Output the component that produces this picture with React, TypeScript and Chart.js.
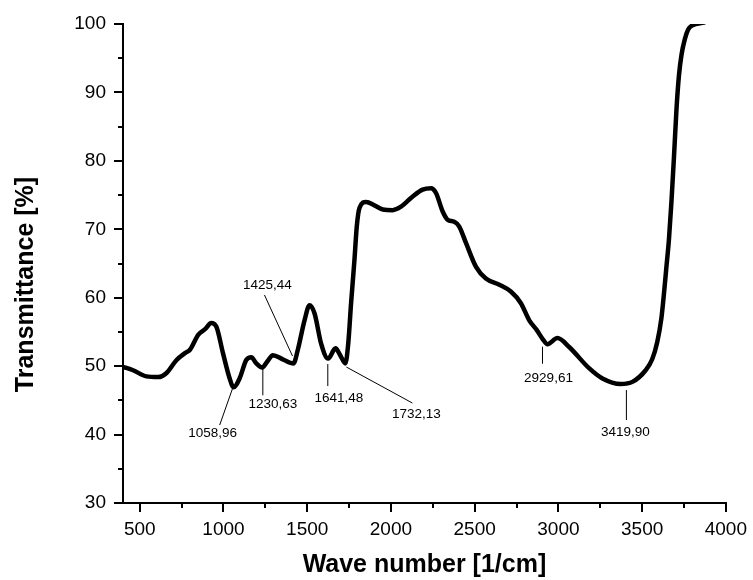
import React, { useEffect, useRef } from "react";
import { Chart, registerables } from "chart.js";

Chart.register(...registerables);

// ---- data ----
const waveNumbers = [
  400, 460, 540, 610, 660, 720, 770, 800, 850, 890, 927, 957, 997, 1037, 1060,
  1096, 1136, 1166, 1196, 1231, 1265, 1295, 1354, 1418, 1444, 1484, 1514, 1544,
  1583, 1625, 1669, 1697, 1728, 1745, 1762, 1782, 1796, 1812, 1852, 1901, 1951,
  2010, 2060, 2130, 2189, 2239, 2269, 2309, 2338, 2378, 2408, 2448, 2508, 2567,
  2647, 2716, 2776, 2826, 2870, 2905, 2935, 2994, 3064, 3183, 3263, 3372, 3442,
  3521, 3560, 3590, 3615, 3630, 3645, 3660, 3675, 3690, 3705, 3720, 3735, 3755,
  3775, 3800, 3869,
];
const transmittance = [
  49.9, 49.4, 48.5, 48.4, 49.0, 50.9, 51.9, 52.4, 54.6, 55.4, 56.3, 55.8, 51.9,
  48.2, 46.9, 48.2, 50.9, 51.3, 50.4, 49.8, 50.8, 51.6, 51.0, 50.4, 52.4, 56.7,
  58.9, 57.7, 53.3, 51.1, 52.6, 51.6, 50.4, 53.3, 59.2, 65.5, 70.4, 73.1, 74.0,
  73.5, 72.9, 72.8, 73.3, 74.8, 75.8, 76.0, 75.3, 72.6, 71.4, 71.1, 70.4, 68.0,
  64.5, 62.8, 61.9, 60.9, 59.2, 56.7, 55.3, 54.0, 53.2, 54.1, 52.8, 49.7, 48.2,
  47.4, 47.7, 49.4, 51.0, 53.5, 57.0, 60.5, 64.5, 68.5, 74.0, 80.5, 87.5, 92.5,
  95.5, 97.8, 99.2, 99.8, 100.2,
];

const xTickValues = [500, 1000, 1500, 2000, 2500, 3000, 3500, 4000];
const yTickValues = [30, 40, 50, 60, 70, 80, 90, 100];
const xMinorTicks = [750, 1250, 1750, 2250, 2750, 3250, 3750];
const yMinorTicks = [35, 45, 55, 65, 75, 85, 95];

const peakLabels = ["1058,96", "1230,63", "1425,44", "1641,48", "1732,13", "2929,61", "3419,90"];
const peakAnchorX = [1055, 1235, 1412, 1623, 1734, 2905, 3406];
const peakAnchorY = [46.8, 49.83, 51.48, 50.31, 49.87, 52.84, 46.51];

const xTitle = "Wave number [1/cm]";
const yTitle = "Transmittance [%]";

// ---- styling (pixel offsets of leader lines and labels) ----
const labelOffsets = [
  { lx: -13, ly: 37, tx: -20, ty: 45 },
  { lx: 0, ly: 28, tx: 10, ty: 37 },
  { lx: -28, ly: -61, tx: -25, ty: -71 },
  { lx: 0, ly: 22, tx: 11, ty: 34 },
  { lx: 66, ly: 36, tx: 70, ty: 47 },
  { lx: 0, ly: 17, tx: 6, ty: 32 },
  { lx: 0, ly: 30, tx: -1, ty: 42 },
];

const FONT = '"Liberation Sans", Arial, Helvetica, sans-serif';

const decorPlugin = {
  id: "decor",
  afterDraw(chart: any) {
    const ctx = chart.ctx as CanvasRenderingContext2D;
    const xs = chart.scales.x;
    const ys = chart.scales.y;
    const area = chart.chartArea;
    ctx.save();
    ctx.strokeStyle = "#000";
    ctx.lineWidth = 2;
    xMinorTicks.forEach((v) => {
      const px = Math.round(xs.getPixelForValue(v));
      ctx.beginPath();
      ctx.moveTo(px, area.bottom);
      ctx.lineTo(px, area.bottom + 5);
      ctx.stroke();
    });
    yMinorTicks.forEach((v) => {
      const py = Math.round(ys.getPixelForValue(v));
      ctx.beginPath();
      ctx.moveTo(area.left, py);
      ctx.lineTo(area.left - 5, py);
      ctx.stroke();
    });

    // peak annotations
    ctx.lineWidth = 1;
    ctx.fillStyle = "#000";
    ctx.font = `13.5px ${FONT}`;
    ctx.textAlign = "center";
    ctx.textBaseline = "middle";
    peakLabels.forEach((t, i) => {
      const ax = xs.getPixelForValue(peakAnchorX[i]);
      const ay = ys.getPixelForValue(peakAnchorY[i]);
      const o = labelOffsets[i];
      ctx.beginPath();
      ctx.moveTo(ax, ay);
      ctx.lineTo(ax + o.lx, ay + o.ly);
      ctx.stroke();
      ctx.fillText(t, ax + o.tx, ay + o.ty);
    });

    // axis titles
    ctx.font = `bold 25px ${FONT}`;
    ctx.textAlign = "center";
    ctx.textBaseline = "alphabetic";
    ctx.fillText(xTitle, (area.left + area.right) / 2, area.bottom + 69);
    ctx.translate(area.left - 90, (area.top + area.bottom) / 2 + 21);
    ctx.rotate(-Math.PI / 2);
    ctx.fillText(yTitle, 0, 0);
    ctx.restore();
  },
};

export default function App() {
  const ref = useRef<HTMLCanvasElement | null>(null);

  useEffect(() => {
    if (!ref.current) return;
    const points = waveNumbers.map((x, i) => ({ x, y: transmittance[i] }));
    const chart = new Chart(ref.current, {
      type: "line",
      data: {
        datasets: [
          {
            data: points,
            borderColor: "#000",
            borderWidth: 4.5,
            pointRadius: 0,
            cubicInterpolationMode: "monotone",
            borderJoinStyle: "round",
            borderCapStyle: "round",
            fill: false,
            clip: 0,
          } as any,
        ],
      },
      options: {
        animation: false,
        responsive: false,
        devicePixelRatio: 1,
        layout: { padding: { top: 24, right: 26, left: 0, bottom: 0 } },
        plugins: {
          legend: { display: false },
          tooltip: { enabled: false },
        },
        scales: {
          x: {
            type: "linear",
            min: 400,
            max: 4000,
            afterBuildTicks: (scale: any) => {
              scale.ticks = xTickValues.map((v) => ({ value: v }));
            },
            afterFit: (scale: any) => {
              scale.height = 77;
            },
            grid: {
              drawOnChartArea: false,
              drawTicks: true,
              tickLength: 9,
              color: "#000",
              lineWidth: 2,
            },
            border: { display: true, color: "#000", width: 2 },
            ticks: {
              color: "#000",
              padding: 6,
              maxRotation: 0,
              autoSkip: false,
              font: { family: FONT, size: 19 },
              callback: (v: any) => String(v),
            },
          },
          y: {
            type: "linear",
            min: 30,
            max: 100,
            afterBuildTicks: (scale: any) => {
              scale.ticks = yTickValues.map((v) => ({ value: v }));
            },
            afterFit: (scale: any) => {
              scale.width = 123;
            },
            grid: {
              drawOnChartArea: false,
              drawTicks: true,
              tickLength: 9,
              color: "#000",
              lineWidth: 2,
            },
            border: { display: true, color: "#000", width: 2 },
            ticks: {
              color: "#000",
              padding: 8,
              autoSkip: false,
              font: { family: FONT, size: 19 },
              callback: (v: any) => String(v),
            },
          },
        },
      },
      plugins: [decorPlugin],
    });
    return () => chart.destroy();
  }, []);

  return (
    <div style={{ position: "absolute", left: 0, top: 0, width: 753, height: 580, background: "#fff" }}>
      <canvas ref={ref} width={753} height={580} style={{ width: 753, height: 580, display: "block" }} />
    </div>
  );
}
